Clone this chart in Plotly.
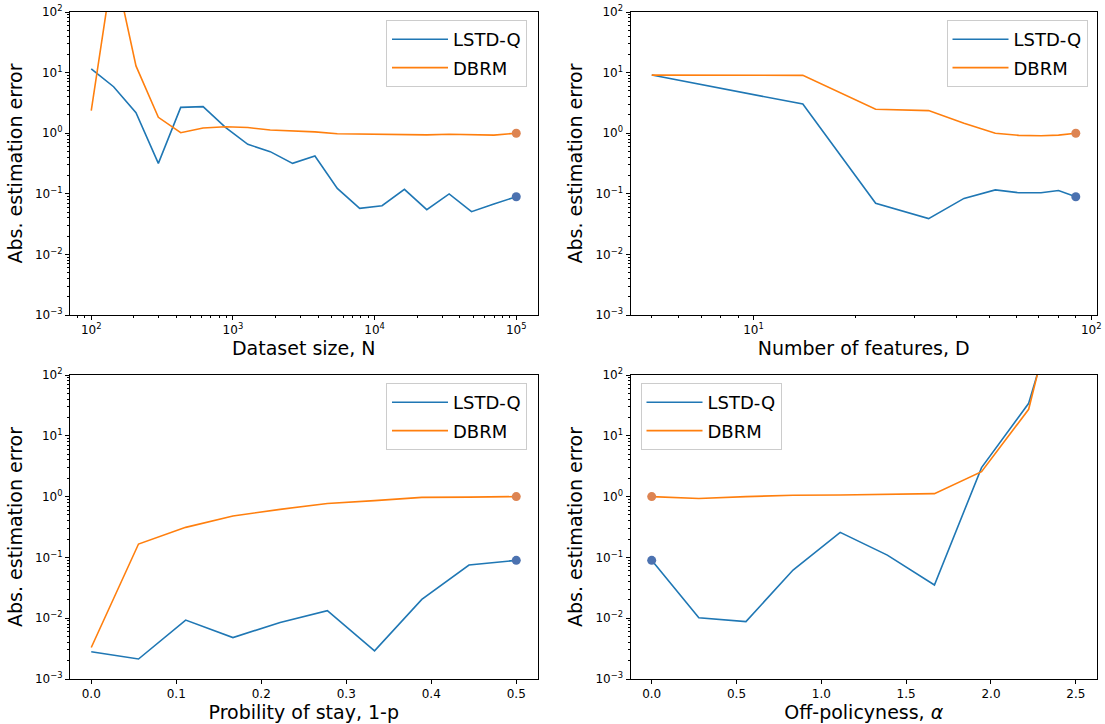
import plotly.graph_objects as go

# ---------------- data ----------------
# Panel 1: dataset size N (log x)
n_values = [100, 143.8, 206.9, 297.6, 428.1, 615.8, 885.9, 1274.3, 1833.0, 2636.7,
            3792.7, 5455.6, 7847.6, 11288.4, 16237.8, 23357.2, 33598.2, 48329.3, 69519.3, 100000]
n_lstdq = [11.5, 5.85, 2.18, 0.318, 2.67, 2.74, 1.25, 0.655, 0.496, 0.318,
           0.421, 0.123, 0.0575, 0.0637, 0.1186, 0.0547, 0.0994, 0.0507, 0.068, 0.0895]
n_dbrm = [2.35, 650, 12.9, 1.83, 1.02, 1.22, 1.28, 1.24, 1.13, 1.09,
          1.05, 0.98, 0.97, 0.95, 0.93, 0.94, 0.96, 0.95, 0.93, 1.0]

# Panel 2: number of features D (log x)
d_values = [5, 14, 23, 33, 42, 52, 61, 71, 80, 90]
d_lstdq = [9.1, 3.03, 0.070, 0.039, 0.084, 0.116, 0.104, 0.104, 0.113, 0.0895]
d_dbrm = [9.1, 9.0, 2.48, 2.36, 1.46, 1.0, 0.92, 0.91, 0.93, 1.0]

# Panel 3: probability of stay 1-p
p_values = [0.0, 0.0556, 0.1111, 0.1667, 0.2222, 0.2778, 0.3333, 0.3889, 0.4444, 0.5]
p_lstdq = [0.0028, 0.00213, 0.0093, 0.0048, 0.0085, 0.0133, 0.0029, 0.0204, 0.075, 0.0895]
p_dbrm = [0.0033, 0.166, 0.312, 0.48, 0.617, 0.77, 0.857, 0.97, 0.98, 1.0]

# Panel 4: off-policyness alpha
a_values = [0.0, 0.2778, 0.5556, 0.8333, 1.1111, 1.3889, 1.6667, 1.9444, 2.2222, 2.5]
a_lstdq = [0.0895, 0.0102, 0.0088, 0.062, 0.258, 0.109, 0.0351, 3.0, 34.2, 14000]
a_dbrm = [1.0, 0.93, 1.0, 1.05, 1.06, 1.09, 1.12, 2.57, 27.3, 35000]

# default configuration (highlighted dots)
default_x = {"N": 100000, "D": 90, "p": 0.5, "a": 0.0}
default_lstdq = 0.0895
default_dbrm = 1.0

series_names = ["LSTD-Q", "DBRM"]
x_titles = ["Dataset size, N", "Number of features, D",
            "Probility of stay, 1-p", "Off-policyness, <i>α</i>"]
y_title = "Abs. estimation error"
y_tickvals = [1e-3, 1e-2, 1e-1, 1e0, 1e1, 1e2]
y_ticktext = ["10<sup>−3</sup>", "10<sup>−2</sup>", "10<sup>−1</sup>",
              "10<sup>0</sup>", "10<sup>1</sup>", "10<sup>2</sup>"]
n_tickvals = [1e2, 1e3, 1e4, 1e5]
n_ticktext = ["10<sup>2</sup>", "10<sup>3</sup>", "10<sup>4</sup>", "10<sup>5</sup>"]
d_tickvals = [1e1, 1e2]
d_ticktext = ["10<sup>1</sup>", "10<sup>2</sup>"]

# ---------------- style ----------------
C_BLUE = "#1f77b4"
C_ORANGE = "#ff7f0e"
DOT_BLUE = "#4c72b0"
DOT_ORANGE = "#dd8452"
FONT = "DejaVu Sans"

W, H = 1105, 724
xdom_l = [70 / W, 537.5 / W]
xdom_r = [630.5 / W, 1097 / W]
ydom_t = [1 - 315 / H, 1 - 12 / H]
ydom_b = [1 - 679 / H, 1 - 375 / H]

fig = go.Figure()

panels = [
    ("x", "y", "legend", n_values, n_lstdq, n_dbrm, default_x["N"]),
    ("x2", "y2", "legend2", d_values, d_lstdq, d_dbrm, default_x["D"]),
    ("x3", "y3", "legend3", p_values, p_lstdq, p_dbrm, default_x["p"]),
    ("x4", "y4", "legend4", a_values, a_lstdq, a_dbrm, default_x["a"]),
]

for xa, ya, lg, xs, y1, y2, dx in panels:
    fig.add_trace(go.Scatter(x=xs, y=y1, mode="lines", name=series_names[0],
                             line=dict(color=C_BLUE, width=1.6), xaxis=xa, yaxis=ya,
                             legend=lg, legendgroup=lg + "a"))
    fig.add_trace(go.Scatter(x=xs, y=y2, mode="lines", name=series_names[1],
                             line=dict(color=C_ORANGE, width=1.6), xaxis=xa, yaxis=ya,
                             legend=lg, legendgroup=lg + "b"))
    fig.add_trace(go.Scatter(x=[dx, dx], y=[default_lstdq, default_dbrm], mode="markers",
                             marker=dict(color=[DOT_BLUE, DOT_ORANGE], size=9),
                             showlegend=False, xaxis=xa, yaxis=ya, cliponaxis=False))

tickfont = dict(family=FONT, size=12, color="black")
titlefont = dict(family=FONT, size=19, color="black")

def base_axis():
    return dict(showgrid=False, zeroline=False, showline=True, linecolor="black",
                linewidth=1, mirror=True, ticks="outside", ticklen=4, tickwidth=1,
                tickcolor="black", tickfont=tickfont)

def yaxis(dom, anchor):
    a = base_axis()
    a.update(type="log", domain=dom, anchor=anchor, range=[-3, 2],
             tickmode="array", tickvals=y_tickvals, ticktext=y_ticktext,
             minor=dict(ticks="outside", ticklen=2, tickwidth=1, tickcolor="black",
                        dtick="D1", showgrid=False),
             title=dict(text=y_title, font=titlefont, standoff=7))
    return a

def xaxis(dom, anchor, title, log=False, rng=None, tv=None, tt=None):
    a = base_axis()
    a.update(domain=dom, anchor=anchor, range=rng,
             title=dict(text=title, font=titlefont, standoff=4))
    if log:
        a.update(type="log", tickmode="array", tickvals=tv, ticktext=tt,
                 minor=dict(ticks="outside", ticklen=2, tickwidth=1, tickcolor="black",
                            dtick="D1", showgrid=False))
    else:
        a.update(dtick=0.1 if rng[1] < 1 else 0.5, tickformat=".1f")
    return a

legend_common = dict(font=dict(family=FONT, size=18, color="black"),
                      bgcolor="rgba(255,255,255,0.8)", bordercolor="#cccccc",
                      borderwidth=1, itemwidth=56, tracegroupgap=2)

fig.update_layout(
    width=W, height=H,
    margin=dict(l=0, r=0, t=0, b=0, autoexpand=False),
    paper_bgcolor="white", plot_bgcolor="white",
    font=dict(family=FONT, color="black"),
    xaxis=xaxis(xdom_l, "y", x_titles[0], True, [1.85, 5.15], n_tickvals, n_ticktext),
    yaxis=yaxis(ydom_t, "x"),
    xaxis2=xaxis(xdom_r, "y2", x_titles[1], True, [0.636, 2.017], d_tickvals, d_ticktext),
    yaxis2=yaxis(ydom_t, "x2"),
    xaxis3=xaxis(xdom_l, "y3", x_titles[2], False, [-0.025, 0.525]),
    yaxis3=yaxis(ydom_b, "x3"),
    xaxis4=xaxis(xdom_r, "y4", x_titles[3], False, [-0.125, 2.625]),
    yaxis4=yaxis(ydom_b, "x4"),
    legend=dict(x=527 / W, y=1 - 20 / H, xanchor="right", yanchor="top", **legend_common),
    legend2=dict(x=1087.5 / W, y=1 - 20 / H, xanchor="right", yanchor="top", **legend_common),
    legend3=dict(x=527 / W, y=1 - 383 / H, xanchor="right", yanchor="top", **legend_common),
    legend4=dict(x=640.5 / W, y=1 - 383 / H, xanchor="left", yanchor="top", **legend_common),
)

fig.write_html("out.html")
